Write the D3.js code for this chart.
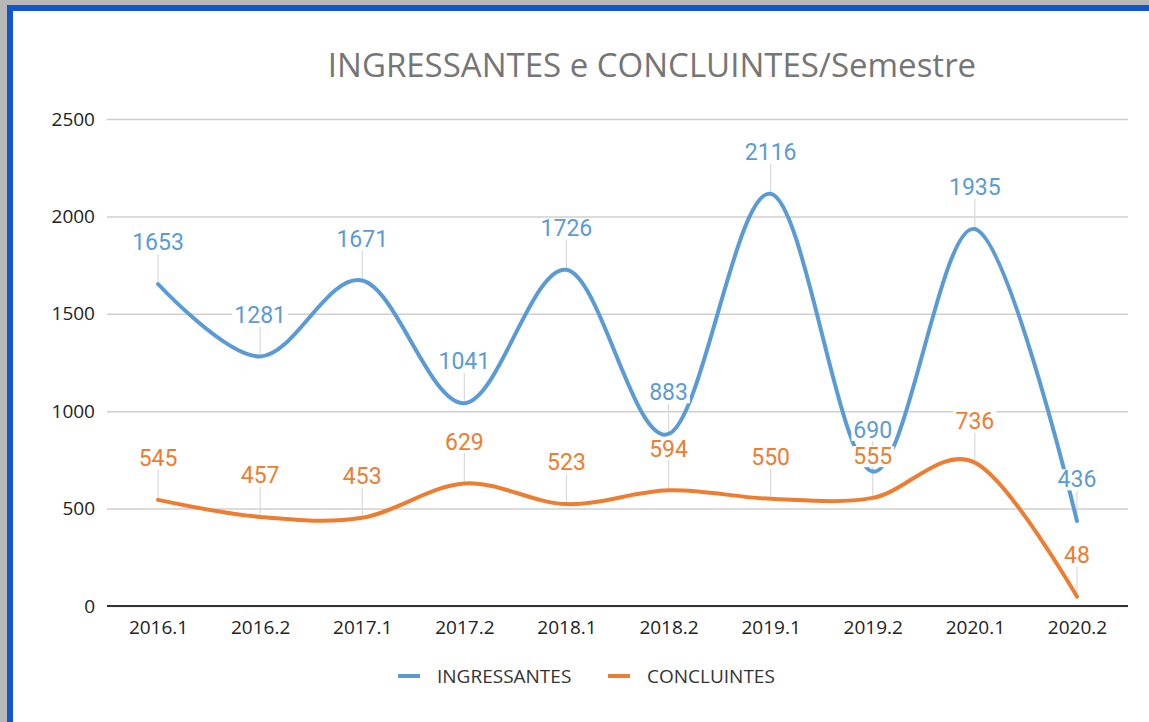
<!DOCTYPE html>
<html>
<head>
<meta charset="utf-8">
<script src="https://cdn.jsdelivr.net/npm/d3@7"></script>
<style>
  html, body { margin: 0; padding: 0; background: #b7b7b7; }
  svg { display: block; }
</style>
</head>
<body>
<svg id="chart" width="1149" height="722"></svg>
<script>
var semestres = ["2016.1", "2016.2", "2017.1", "2017.2", "2018.1", "2018.2", "2019.1", "2019.2", "2020.1", "2020.2"];
var ingressantes = [1653, 1281, 1671, 1041, 1726, 883, 2116, 690, 1935, 436];
var concluintes = [545, 457, 453, 629, 523, 594, 550, 555, 736, 48];
var yTicks = [0, 500, 1000, 1500, 2000, 2500];

var series = [
  { name: "INGRESSANTES", values: ingressantes, color: "#5b9bd5" },
  { name: "CONCLUINTES", values: concluintes, color: "#ed7d31" }
];

var svg = d3.select("#chart");

// frame: gray outside, blue border, white chart area
svg.append("rect").attr("x", 7).attr("y", 5).attr("width", 1149).attr("height", 722).attr("fill", "#1155cc");
svg.append("rect").attr("x", 13).attr("y", 11).attr("width", 1149).attr("height", 722).attr("fill", "#ffffff");

var margin = { left: 107, right: 1128, top: 119, bottom: 606 };

var x = d3.scalePoint()
  .domain(semestres)
  .range([margin.left, margin.right])
  .padding(0.5);

var y = d3.scaleLinear()
  .domain([0, 2500])
  .range([margin.bottom, margin.top]);

var font = "'Open Sans', 'Noto Sans', sans-serif";

// title
svg.append("text")
  .attr("x", 652).attr("y", 77)
  .attr("text-anchor", "middle")
  .attr("font-family", font)
  .attr("font-size", 33)
  .attr("fill", "#757575")
  .text("INGRESSANTES e CONCLUINTES/Semestre");

// gridlines
var yAxis = d3.axisLeft(y).tickValues(yTicks).tickFormat(d3.format("d"))
  .tickSize(-(margin.right - margin.left)).tickPadding(12);
var gy = svg.append("g").attr("transform", "translate(" + margin.left + ",0)").call(yAxis);
gy.select(".domain").remove();
gy.selectAll(".tick line").attr("stroke", "#cfcfcf").attr("stroke-width", 1.5);
gy.selectAll(".tick text")
  .attr("font-family", font)
  .attr("font-size", 19)
  .attr("fill", "#222");

// x axis
var xAxis = d3.axisBottom(x).tickSize(0).tickPadding(15);
var gx = svg.append("g").attr("transform", "translate(0," + margin.bottom + ")").call(xAxis);
gx.select(".domain").attr("d", "M" + margin.left + ",0H" + margin.right).attr("stroke", "#333").attr("stroke-width", 2);
gx.selectAll(".tick text")
  .attr("font-family", font)
  .attr("font-size", 19)
  .attr("fill", "#222");

var line = d3.line()
  .x(function(d, i) { return x(semestres[i]); })
  .y(function(d) { return y(d); })
  .curve(d3.curveCardinal.tension(0));

var labelOffset = 42;

// leader lines
series.forEach(function(s) {
  svg.append("g").selectAll("line")
    .data(s.values)
    .enter().append("line")
    .attr("x1", function(d, i) { return x(semestres[i]); })
    .attr("x2", function(d, i) { return x(semestres[i]); })
    .attr("y1", function(d) { return y(d) - labelOffset + 12; })
    .attr("y2", function(d) { return y(d) - 2; })
    .attr("stroke", "#d9d9d9")
    .attr("stroke-width", 1.2);
});

// lines
series.forEach(function(s) {
  svg.append("path")
    .datum(s.values)
    .attr("fill", "none")
    .attr("stroke", s.color)
    .attr("stroke-width", 4)
    .attr("stroke-linecap", "round")
    .attr("d", line);
});

// data labels with white background
series.forEach(function(s) {
  var g = svg.append("g");
  var lab = g.selectAll("g")
    .data(s.values)
    .enter().append("g")
    .attr("transform", function(d, i) { return "translate(" + x(semestres[i]) + "," + (y(d) - labelOffset) + ")"; });
  lab.append("text")
    .attr("text-anchor", "middle")
    .attr("dy", "0.36em")
    .attr("font-family", "Roboto, sans-serif")
    .attr("font-size", 23)
    .attr("fill", s.color)
    .text(function(d) { return d; })
    .each(function() {
      var bb = this.getBBox();
      d3.select(this.parentNode).insert("rect", "text")
        .attr("x", bb.x - 2).attr("y", bb.y + 3)
        .attr("width", bb.width + 4).attr("height", bb.height - 6)
        .attr("fill", "#fff");
    });
});

// legend
var legend = svg.append("g").attr("transform", "translate(0,676)");
var legX = [398, 608];
series.forEach(function(s, i) {
  legend.append("line")
    .attr("x1", legX[i]).attr("x2", legX[i] + 22)
    .attr("stroke", s.color).attr("stroke-width", 4);
  legend.append("text")
    .attr("x", legX[i] + 39)
    .attr("dy", "0.35em")
    .attr("font-family", font)
    .attr("font-size", 19)
    .attr("fill", "#333")
    .text(s.name);
});
</script>
</body>
</html>
